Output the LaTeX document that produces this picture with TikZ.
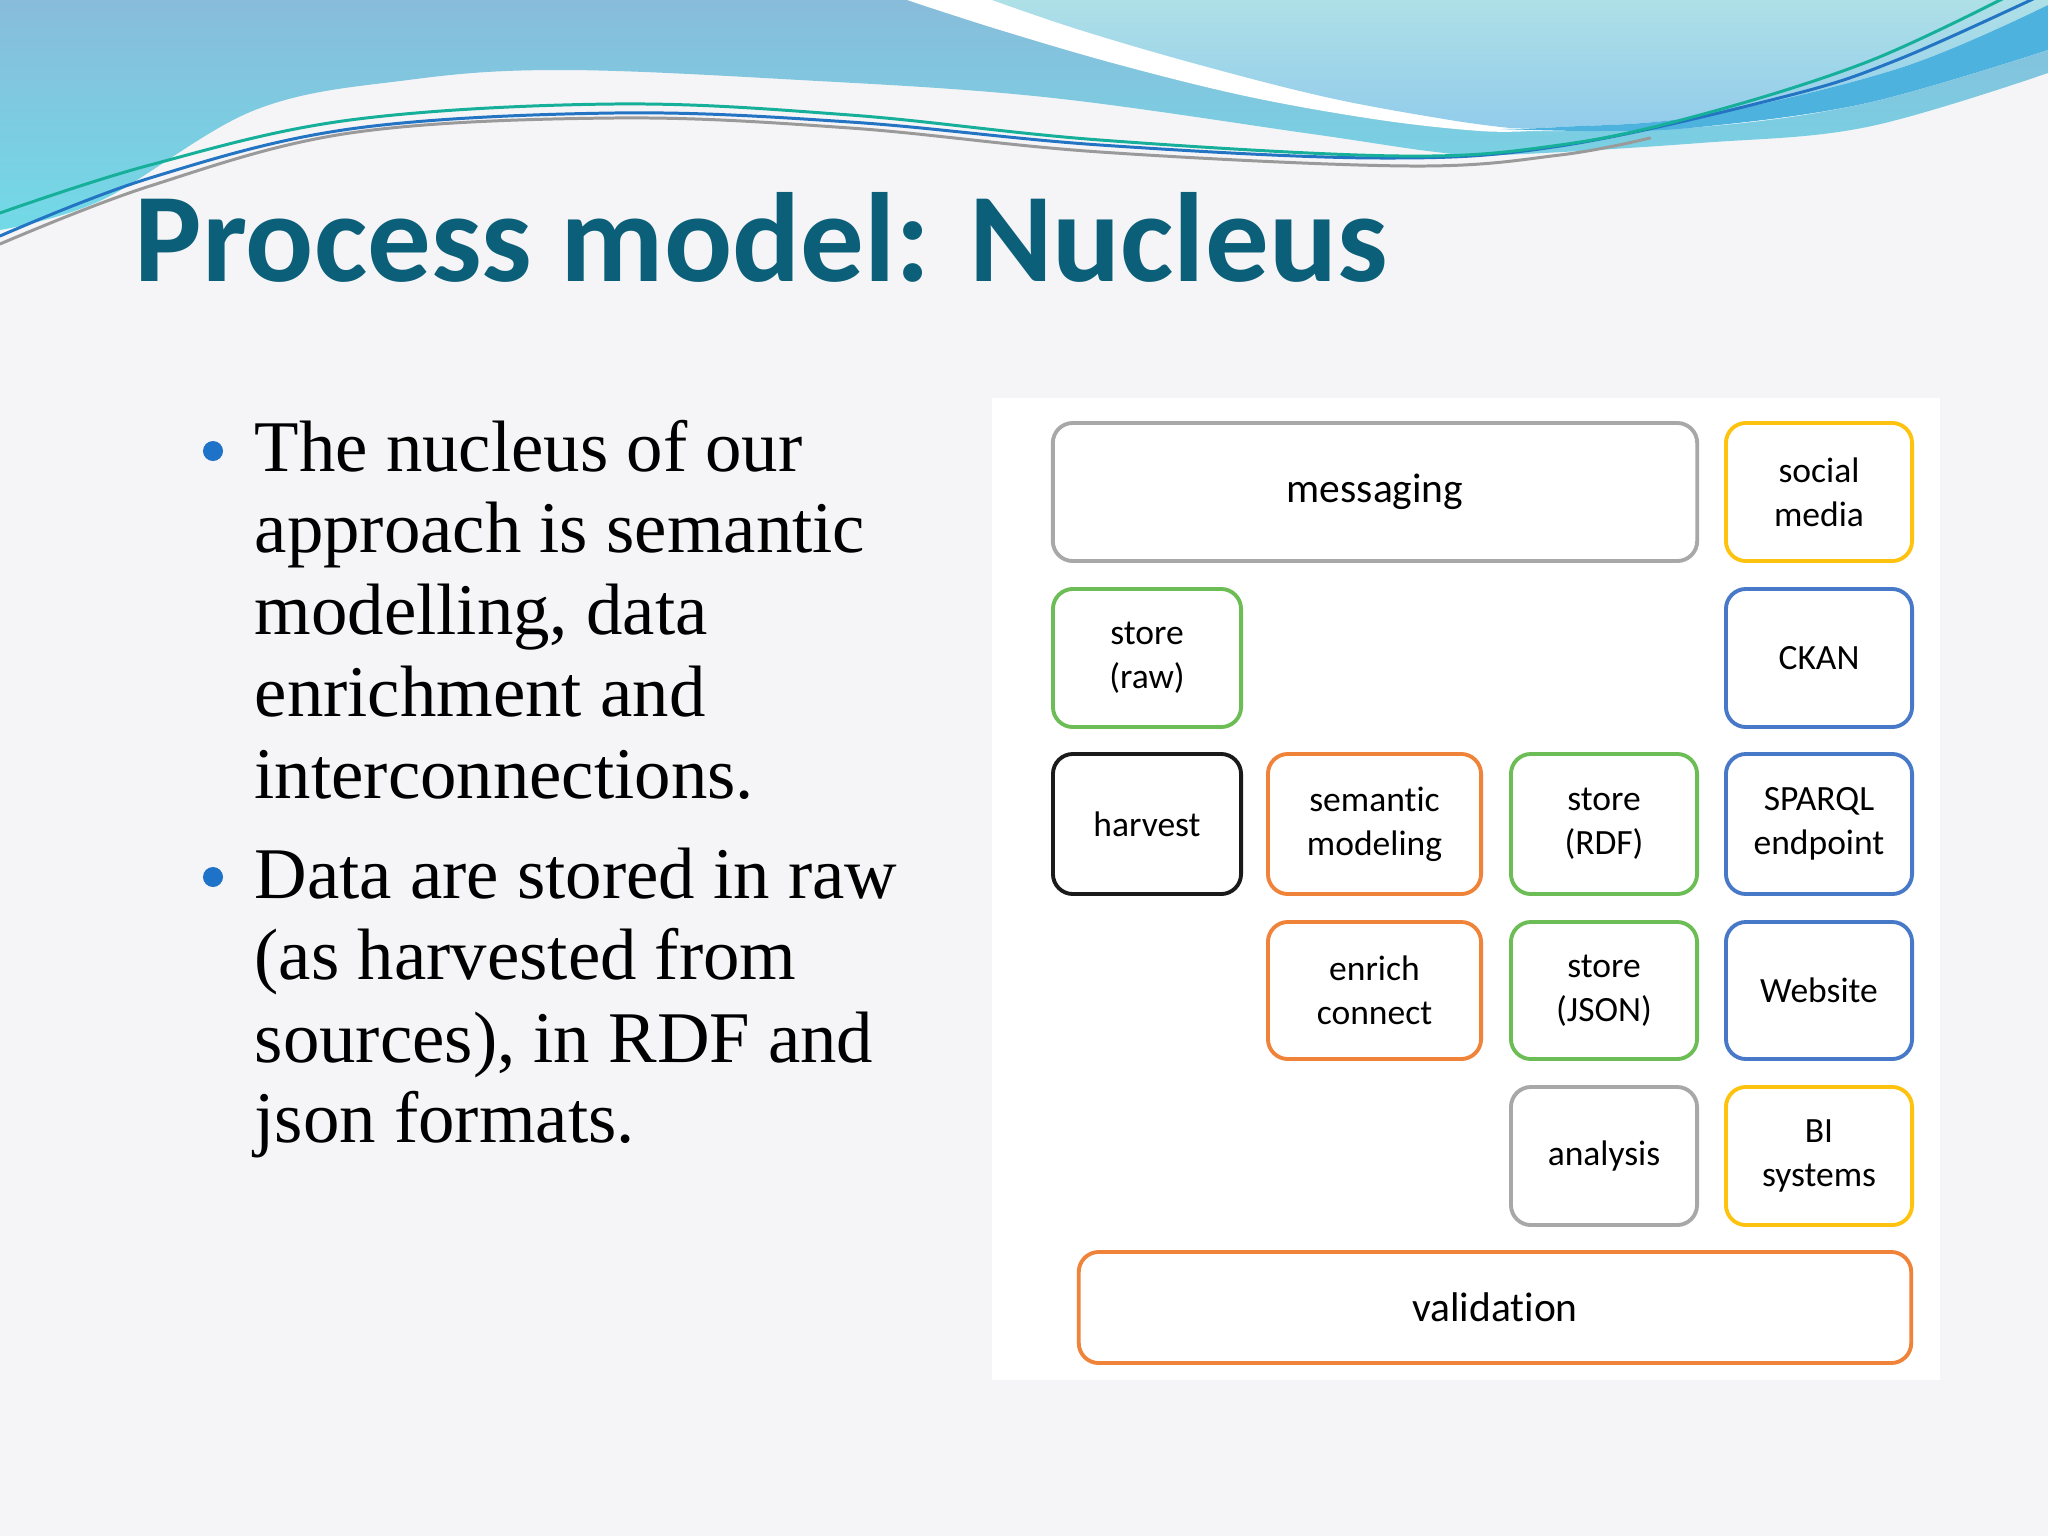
\documentclass[tikz,border=0pt]{standalone}
\usepackage{fontspec}
\setmainfont{Liberation Serif}
\newfontfamily\calfont{Carlito}[Ligatures={NoCommon}]
\definecolor{bgc}{HTML}{F5F5F7}
\definecolor{ctitle}{HTML}{0C5F79}
\definecolor{cbullet}{HTML}{1E72C8}
\definecolor{cgray}{HTML}{A8A8A8}
\definecolor{cyellow}{HTML}{FFC20E}
\definecolor{cgreen}{HTML}{6CBD55}
\definecolor{cblue}{HTML}{4878C8}
\definecolor{corange}{HTML}{F0833A}
\definecolor{cblack}{HTML}{1A1A1A}
\definecolor{wtop}{HTML}{88BCDA}
\definecolor{wbot}{HTML}{72DAE7}
\definecolor{ptop}{HTML}{AEE0E7}
\definecolor{pbot}{HTML}{92CCEB}
\definecolor{ribbon}{HTML}{4DB2DE}
\definecolor{lteal}{HTML}{16AF99}
\definecolor{lblue}{HTML}{2474C4}
\definecolor{lgray}{HTML}{9A9A9A}
\begin{document}
\begin{tikzpicture}[x=0.01cm,y=-0.01cm,
  pbox/.style={draw=#1, line width=1.1pt, rounded corners=0.2cm, fill=white, inner sep=0pt, align=center, font=\calfont\fontsize{10.1}{12.6}\selectfont, text=black},
  wide/.style={font=\calfont\fontsize{11.8}{14}\selectfont},
  bline/.style={anchor=base west, inner sep=0pt, font=\fontsize{20.7}{23.3}\selectfont, text=black},
  bdot/.style={circle, fill=cbullet, minimum size=0.2cm, inner sep=0pt},
  thin/.style={line width=0.85pt, line cap=round}]
\useasboundingbox (0,0) rectangle (2048,1536);
\fill[bgc] (0,0) rectangle (2048,1536);
% wave: blue region
\shade[top color=wtop, bottom color=wbot] (0,0) -- plot[smooth, tension=0.6] coordinates {(0,230) (102,200) (255,110) (408,80) (561,70) (800,80) (1044,97) (1305,133) (1436,152) (1500,155) (1700,143) (1867,127) (2048,73)} -- (2048,0) -- cycle;
% white stripe
\fill[white] (907,0) -- plot[smooth, tension=0.6] coordinates {(907,0) (1000,30) (1120,65) (1250,97) (1380,120) (1480,131) (1530,131)} -- plot[smooth, tension=0.6] coordinates {(1530,131) (1700,127) (1867,103) (2048,50)} -- (2048,0) -- cycle;
% pale region
\shade[top color=ptop, bottom color=pbot] (992,0) -- plot[smooth, tension=0.6] coordinates {(992,0) (1080,30) (1200,65) (1330,98) (1450,120) (1510,128)} -- plot[smooth, tension=0.6] coordinates {(1510,128) (1560,127) (1700,116) (1900,68) (2048,5)} -- (2048,0) -- cycle;
% ribbon
\fill[ribbon] plot[smooth, tension=0.6] coordinates {(1500,129) (1600,131) (1700,127) (1867,103) (2048,50)} -- plot[smooth, tension=0.6] coordinates {(2048,5) (1900,68) (1700,116) (1560,127) (1500,129)} -- cycle;
% thin lines
\draw[thin, lgray] plot[smooth, tension=0.6] coordinates {(0,244) (150,186) (350,133) (614,118) (850,128) (1100,152) (1410,166) (1560,155) (1650,138)};
\draw[thin, lblue] plot[smooth, tension=0.6] coordinates {(0,236) (150,178) (350,129) (614,113) (850,122) (1100,145) (1380,158) (1560,146) (1783,97) (1897,60) (2048,-8)};
\draw[thin, lteal] plot[smooth, tension=0.6] coordinates {(0,213) (150,165) (350,120) (614,104) (850,115) (1100,140) (1400,156) (1560,145) (1700,115) (1867,62) (2010,-5)};
% title
\node[anchor=base west, inner sep=0pt, font=\calfont\bfseries\fontsize{36.1}{40}\selectfont, text=ctitle] (title) at (134,281) {Process model: Nucleus};
% bullets
\node[bdot] (b1) at (213,451) {};
\node[bline] (l1) at (254,471) {The nucleus of our};
\node[bline] (l2) at (254,552) {approach is semantic};
\node[bline] (l3) at (254,634) {modelling, data};
\node[bline] (l4) at (254,716) {enrichment and};
\node[bline] (l5) at (254,798) {interconnections.};
\node[bdot] (b2) at (213,877) {};
\node[bline] (l6) at (254,898) {Data are stored in raw};
\node[bline] (l7) at (254,979) {(as harvested from};
\node[bline] (l8) at (254,1062) {sources), in RDF and};
\node[bline] (l9) at (254,1142) {json formats.};
% panel
\fill[white] (992,398) rectangle (1940,1380);
% boxes
\node[pbox=cgray, wide, minimum width=6.44cm, minimum height=1.38cm] (messaging) at (1375,492) {messaging};
\node[pbox=cyellow, minimum width=1.86cm, minimum height=1.38cm] (social) at (1819,492) {social\\media};
\node[pbox=cgreen, minimum width=1.88cm, minimum height=1.38cm] (storeraw) at (1147,658) {store\\(raw)};
\node[pbox=cblue, minimum width=1.86cm, minimum height=1.38cm] (ckan) at (1819,658) {CKAN};
\node[pbox=cblack, minimum width=1.88cm, minimum height=1.40cm] (harvest) at (1147,824) {harvest};
\node[pbox=corange, minimum width=2.13cm, minimum height=1.40cm] (semantic) at (1374.5,824) {semantic\\modeling};
\node[pbox=cgreen, minimum width=1.86cm, minimum height=1.40cm] (storerdf) at (1604,824) {store\\(RDF)};
\node[pbox=cblue, minimum width=1.86cm, minimum height=1.40cm] (sparql) at (1819,824) {SPARQL\\endpoint};
\node[pbox=corange, minimum width=2.13cm, minimum height=1.37cm] (enrich) at (1374.5,990.5) {enrich\\connect};
\node[pbox=cgreen, minimum width=1.86cm, minimum height=1.37cm] (storejson) at (1604,990.5) {store\\(JSON)};
\node[pbox=cblue, minimum width=1.86cm, minimum height=1.37cm] (website) at (1819,990.5) {Website};
\node[pbox=cgray, minimum width=1.86cm, minimum height=1.38cm] (analysis) at (1604,1156) {analysis};
\node[pbox=cyellow, minimum width=1.86cm, minimum height=1.38cm] (bi) at (1819,1156) {BI\\systems};
\node[pbox=corange, wide, minimum width=8.32cm, minimum height=1.11cm] (validation) at (1495,1307.5) {validation};
\end{tikzpicture}
\end{document}
